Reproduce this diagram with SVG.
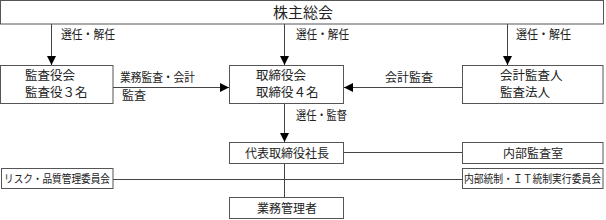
<svg xmlns="http://www.w3.org/2000/svg" width="606" height="220" viewBox="0 0 606 220">
<defs>
<marker id="ah" viewBox="0 0 10 10" refX="10" refY="5" markerWidth="9" markerHeight="9" markerUnits="userSpaceOnUse" orient="auto">
<path d="M0,0 L10,5 L0,10 z" fill="#000"/>
</marker>
<style>
.box{fill:#fff;stroke:#555;stroke-width:1}
.t{font-family:"Noto Sans CJK JP","Noto Sans",sans-serif;font-size:12.5px;fill:#222}
.l{font-size:12px}
.s{font-size:11px}
.tc{text-anchor:middle}
.big{font-size:15px}
.ln{stroke:#444;stroke-width:1;fill:none}
.arr{stroke:#444;stroke-width:1;fill:none;marker-end:url(#ah)}
</style>
</defs>
<rect width="606" height="220" fill="#fff"/>
<g id="connectors">
<line class="arr" x1="51.5" y1="24" x2="51.5" y2="65"/>
<line class="arr" x1="284.5" y1="24" x2="284.5" y2="65"/>
<line class="arr" x1="507.5" y1="24" x2="507.5" y2="65"/>
<line class="arr" x1="113" y1="87.5" x2="229" y2="87.5"/>
<line class="arr" x1="462" y1="87.5" x2="344" y2="87.5"/>
<line class="arr" x1="284.5" y1="104" x2="284.5" y2="142"/>
<line class="ln" x1="344" y1="152.5" x2="462" y2="152.5"/>
<line class="ln" x1="113" y1="179.5" x2="462" y2="179.5"/>
<line class="ln" x1="284.5" y1="164" x2="284.5" y2="197"/>
<text class="t l" x="61" y="39" textLength="54" lengthAdjust="spacingAndGlyphs">選任・解任</text>
<text class="t l" x="296" y="39" textLength="53" lengthAdjust="spacingAndGlyphs">選任・解任</text>
<text class="t l" x="516" y="39" textLength="55" lengthAdjust="spacingAndGlyphs">選任・解任</text>
<text class="t l" x="120" y="82" textLength="75" lengthAdjust="spacingAndGlyphs">業務監査・会計</text>
<text class="t l" x="122" y="100">監査</text>
<text class="t l" x="385" y="82">会計監査</text>
<text class="t l" x="296" y="120" textLength="51" lengthAdjust="spacingAndGlyphs">選任・監督</text>
</g>
<g id="shareholders">
<rect class="box" x="0.5" y="0.5" width="603" height="23.5"/>
<text class="t tc big" x="303" y="18">株主総会</text>
</g>
<g id="auditors">
<rect class="box" x="0.5" y="65.5" width="112.5" height="38"/>
<text class="t" x="25" y="80">監査役会</text>
<text class="t" x="25" y="97">監査役３名</text>
</g>
<g id="board">
<rect class="box" x="229.5" y="65.5" width="114" height="38"/>
<text class="t" x="256" y="80">取締役会</text>
<text class="t" x="256" y="97">取締役４名</text>
</g>
<g id="accounting-auditor">
<rect class="box" x="462.5" y="65.5" width="140.5" height="38"/>
<text class="t" x="500" y="80">会計監査人</text>
<text class="t" x="500" y="97">監査法人</text>
</g>
<g id="president">
<rect class="box" x="229.5" y="142.5" width="114" height="21"/>
<text class="t tc l" x="287" y="157.5">代表取締役社長</text>
</g>
<g id="internal-audit">
<rect class="box" x="462.5" y="142.5" width="140.5" height="21"/>
<text class="t tc l" x="533" y="157.5">内部監査室</text>
</g>
<g id="internal-control">
<rect class="box" x="462.5" y="168.5" width="140.5" height="20"/>
<text class="t s" x="464" y="183" textLength="137" lengthAdjust="spacingAndGlyphs">内部統制・ＩＴ統制実行委員会</text>
</g>
<g id="risk-quality">
<rect class="box" x="1.5" y="168.5" width="111.5" height="20"/>
<text class="t s" x="4" y="183" textLength="106" lengthAdjust="spacingAndGlyphs">リスク・品質管理委員会</text>
</g>
<g id="business-manager">
<rect class="box" x="229.5" y="197.5" width="114" height="21"/>
<text class="t tc l" x="287" y="212.5">業務管理者</text>
</g>
</svg>
